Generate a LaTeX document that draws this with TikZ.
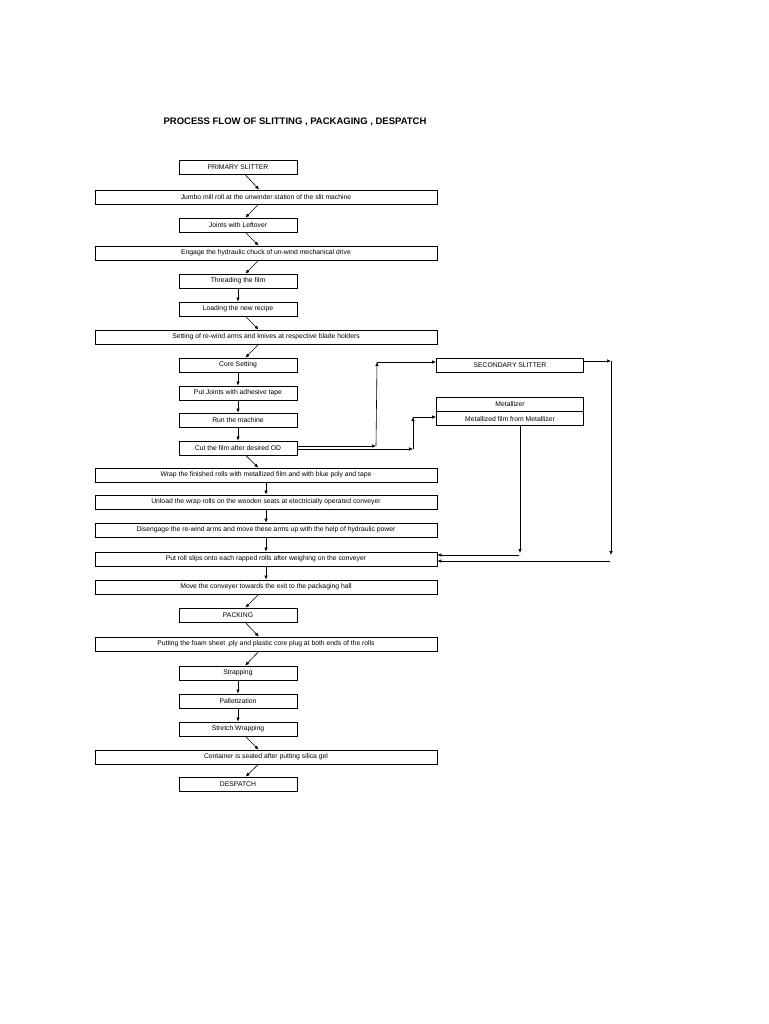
\documentclass[tikz,border=0pt]{standalone}
\usepackage{fontspec}
\setmainfont{Liberation Sans}
\usetikzlibrary{arrows.meta}
\begin{document}
\begin{tikzpicture}[x=1pt,y=-1pt,
  box/.style={draw,line width=0.8pt,minimum height=14pt,inner sep=0pt,font=\fontsize{6.8}{8}\selectfont},
  sbox/.style={box,minimum width=118pt},
  lbox/.style={box,minimum width=342pt},
  arr/.style={-{Latex[length=4pt,width=3.5pt]},line width=0.6pt},
  ln/.style={line width=0.6pt}]
\useasboundingbox (0,0) rectangle (768,1024);
\node[font=\bfseries\fontsize{9.5}{11}\selectfont] (title) at (295,122) {PROCESS FLOW OF SLITTING , PACKAGING , DESPATCH};
\node[sbox] (n1) at (238,167) {PRIMARY SLITTER};
\node[lbox] (n2) at (266,197) {Jumbo mill roll at the unwinder station of the slit machine};
\node[sbox] (n3) at (238,225) {Joints with Leftover};
\node[lbox] (n4) at (266,253) {Engage the hydraulic chuck of un-wind mechanical drive};
\node[sbox] (n5) at (238,281) {Threading the film};
\node[sbox] (n6) at (238,309) {Loading the new recipe};
\node[lbox] (n7) at (266,337) {Setting of re-wind arms and knives at respective blade holders};
\node[sbox] (n8) at (238,365) {Core Setting};
\node[sbox] (n9) at (238,393) {Put Joints with adhesive tape};
\node[sbox] (n10) at (238,420) {Run the machine};
\node[sbox] (n11) at (238,448) {Cut the film after desired OD};
\node[lbox] (n12) at (266,475) {Wrap the finished rolls with metallized film and with blue poly and tape};
\node[lbox] (n13) at (266,502) {Unload the wrap rolls on the wooden seats at electricially operated conveyer};
\node[lbox] (n14) at (266,530) {Disengage the re-wind arms and move these arms up with the help of hydraulic power};
\node[lbox] (n15) at (266,559) {Put roll slips onto each rapped rolls after weighing on the conveyer};
\node[lbox] (n16) at (266,587) {Move the conveyer towards the exit to the packaging hall};
\node[sbox] (n17) at (238,615) {PACKING};
\node[lbox] (n18) at (266,644) {Putting the foam sheet ,ply and plastic core plug at both ends of the rolls};
\node[sbox] (n19) at (238,673) {Strapping};
\node[sbox] (n20) at (238,701) {Palletization};
\node[sbox] (n21) at (238,729) {Stretch Wrapping};
\node[lbox] (n22) at (266,757) {Container is sealed after putting silica gel};
\node[sbox] (n23) at (238,784) {DESPATCH};
\foreach \a/\b in {1/2,2/3,3/4,4/5,5/6,6/7,7/8,8/9,9/10,10/11,11/12,12/13,13/14,14/15,15/16,16/17,17/18,18/19,19/20,20/21,21/22,22/23}
  \draw[arr] (n\a) -- (n\b);
\node[box,minimum width=147pt] (sec) at (510,365) {SECONDARY SLITTER};
\node[box,minimum width=147pt] (met) at (510,404) {Metallizer};
\node[box,minimum width=147pt,anchor=north] (mf) at (met.south) {Metallized film from Metallizer};
% connectors from cut the film
\coordinate (a1) at (376,446); \coordinate (a2) at (377,362);
\coordinate (b1) at (413,449); \coordinate (b2) at (413,417);
\draw[arr] (n11.east |- a1) -- (a1);
\draw[arr] (a1) -- (a2);
\draw[arr] (a2) -- (sec.west |- a2);
\draw[arr] (n11.east |- b1) -- (b1);
\draw[arr] (b1) -- (b2);
\draw[arr] (b2) -- (mf.west |- b2);
% secondary slitter to put roll slips
\coordinate (c1) at (611,361); \coordinate (c2) at (611,555);
\draw[arr] (sec.east |- c1) -- (c1);
\draw[arr] (c1) -- (c2);
\draw[arr] (610,561) -- (n15.east |- 0,561);
% metallizer to put roll slips
\coordinate (d2) at (520,553);
\draw[arr] (mf.south -| d2) -- (d2);
\draw[arr] (519,555) -- (n15.east |- 0,555);
\end{tikzpicture}
\end{document}
